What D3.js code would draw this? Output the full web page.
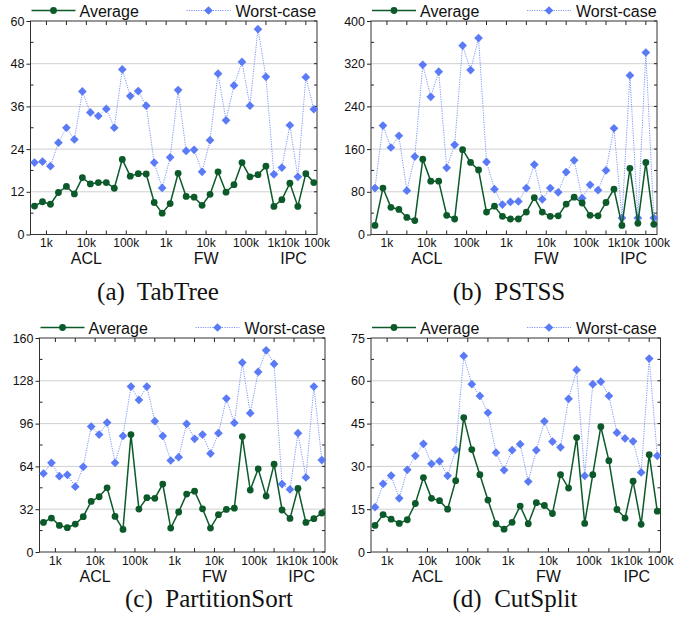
<!DOCTYPE html>
<html>
<head>
<meta charset="utf-8">
<script src="https://cdn.jsdelivr.net/npm/d3@7/dist/d3.min.js"></script>
<style>
  body { margin: 0; background: #fff; }
  svg { display: block; }
  text { font-family: Arial, "Liberation Sans", sans-serif; fill: #111; }
  .caption { font-family: "Times New Roman", "Liberation Serif", serif; }
</style>
</head>
<body>
<div id="chart"></div>
<script>
// categories: 3 rule-set families, 3 sizes each, n seeds per size
const groups = ['ACL', 'FW', 'IPC'];
const setsPerGroup = [5, 5, 2];
const sizes = ['1k', '10k', '100k'];
const seriesNames = ['Average', 'Worst-case'];

// y tick labels per panel
const yTicksTabTree = [0, 12, 24, 36, 48, 60];
const yTicksPSTSS = [0, 80, 160, 240, 320, 400];
const yTicksPartitionSort = [0, 32, 64, 96, 128, 160];
const yTicksCutSplit = [0, 15, 30, 45, 60, 75];

// values (36 rule sets each)
const tabTreeAvg = [8.0, 9.2, 8.5, 11.8, 13.5, 11.4, 16.0, 14.2, 14.6, 14.6, 13.0, 21.1, 16.4, 17.1, 17.0,
  9.0, 6.0, 8.7, 17.2, 10.7, 10.5, 8.2, 11.3, 17.6, 11.9, 14.0, 20.2, 16.2, 16.8, 19.2,
  7.9, 9.8, 14.4, 7.9, 17.1, 14.6];
const tabTreeWorst = [20.2, 20.5, 19.2, 25.8, 30.0, 26.7, 40.2, 34.3, 33.3, 35.3, 30.0, 46.4, 38.9, 40.3, 36.2,
  20.2, 13.1, 21.7, 40.6, 23.5, 23.8, 17.6, 26.5, 45.2, 32.1, 41.9, 48.5, 36.2, 57.7, 44.3,
  16.9, 18.8, 30.7, 16.2, 44.2, 35.2];

const pstssAvg = [17, 87, 51, 47, 32, 26, 141, 100, 100, 36, 29, 159, 135, 121, 42,
  53, 34, 29, 29, 42, 69, 42, 34, 35, 57, 70, 59, 36, 35, 60,
  85, 17, 124, 21, 135, 19];
const pstssWorst = [87, 204, 163, 185, 82, 146, 318, 258, 305, 125, 168, 354, 308, 368, 136,
  85, 56, 61, 62, 87, 131, 66, 87, 79, 117, 139, 68, 93, 83, 120,
  199, 31, 298, 31, 341, 31];

const partitionSortAvg = [22.1, 25.4, 19.9, 18.2, 20.9, 26.4, 37.8, 41.3, 48.0, 26.6, 16.9, 87.8, 32.1, 40.6, 40.1,
  50.8, 17.9, 29.9, 43.3, 45.5, 32.3, 17.9, 27.9, 31.8, 32.8, 86.3, 46.3, 62.2, 41.8, 65.7,
  31.4, 25.1, 47.5, 22.1, 24.9, 29.1];
const partitionSortWorst = [58.7, 66.7, 56.7, 57.7, 48.8, 63.7, 93.8, 87.8, 96.8, 66.7, 86.8, 123.7, 113.7, 123.7, 97.8,
  86.8, 68.4, 70.9, 95.8, 84.6, 87.8, 73.6, 88.8, 114.7, 96.5, 141.6, 103.8, 134.6, 150.8, 140.6,
  50.8, 46.8, 88.8, 55.7, 123.7, 68.7];

const cutSplitAvg = [9.3, 13.1, 11.5, 10.0, 11.3, 17.0, 26.1, 18.8, 18.0, 15.0, 25.0, 47.1, 35.9, 27.1, 18.2,
  9.9, 8.0, 10.4, 16.1, 9.9, 17.3, 16.3, 13.5, 27.1, 22.4, 40.1, 10.0, 27.1, 43.9, 32.0,
  14.9, 11.9, 24.8, 9.7, 34.1, 14.3];
const cutSplitWorst = [15.7, 23.9, 26.8, 18.8, 28.8, 33.7, 37.9, 30.9, 31.8, 26.7, 35.8, 68.7, 58.8, 54.7, 48.8,
  34.8, 28.7, 35.7, 37.8, 24.7, 35.7, 45.8, 38.7, 36.7, 53.7, 63.8, 26.7, 58.8, 59.7, 54.7,
  41.8, 39.8, 38.8, 27.9, 67.8, 33.7];

const WIDTH = 697, HEIGHT = 627;
const GREEN = '#0c5a2a';
const BLUE = '#5b7bf6';
const BLUE_LINE = '#7d96fb';

// panel layout (pixel boxes of each plot frame)
const panels = [
  { caption: '(a)', name: 'TabTree', avg: tabTreeAvg, worst: tabTreeWorst, yTicks: yTicksTabTree,
    box: { left: 30.5, right: 317, top: 21, bottom: 234.5 }, capX: 158, capY: 300 },
  { caption: '(b)', name: 'PSTSS', avg: pstssAvg, worst: pstssWorst, yTicks: yTicksPSTSS,
    box: { left: 371, right: 657, top: 21, bottom: 234.5 }, capX: 509, capY: 300 },
  { caption: '(c)', name: 'PartitionSort', avg: partitionSortAvg, worst: partitionSortWorst, yTicks: yTicksPartitionSort,
    box: { left: 39.5, right: 325, top: 338, bottom: 552 }, capX: 209, capY: 607 },
  { caption: '(d)', name: 'CutSplit', avg: cutSplitAvg, worst: cutSplitWorst, yTicks: yTicksCutSplit,
    box: { left: 371, right: 660.5, top: 338, bottom: 552 }, capX: 515, capY: 607 }
];

// build the category list (1-based x index)
const categories = [];
const sizeBlocks = [];
const groupBlocks = [];
groups.forEach((g, gi) => {
  const gb = { group: g, blocks: [] };
  sizes.forEach(s => {
    const start = categories.length + 1;
    for (let k = 0; k < setsPerGroup[gi]; k++) {
      categories.push({ group: g, size: s, x: categories.length + 1 });
    }
    const block = { label: s, start, end: categories.length };
    sizeBlocks.push(block);
    gb.blocks.push(block);
  });
  groupBlocks.push(gb);
});
const nCat = categories.length;
const xDomain = [0.5, nCat + 0.4];

// size label sits half a step left of the block centre; the last one at the axis end
sizeBlocks.forEach((b, i) => {
  b.pos = i === sizeBlocks.length - 1 ? xDomain[1] : (b.start + b.end) / 2 - 0.5;
});
groupBlocks.forEach(gb => { gb.pos = d3.mean(gb.blocks, b => b.pos); });

const svg = d3.select('#chart').append('svg')
  .attr('width', WIDTH)
  .attr('height', HEIGHT);

// diamond = square turned 45 degrees
const diamond = d3.symbol().type(d3.symbolSquare).size(38);

function drawPanel(p) {
  const { left, right, top, bottom } = p.box;
  const x = d3.scaleLinear().domain(xDomain).range([left, right]);
  const y = d3.scaleLinear().domain([0, d3.max(p.yTicks)]).range([bottom, top]);
  const step = p.yTicks[1] - p.yTicks[0];
  const minorY = p.yTicks.slice(0, -1).map(v => v + step / 2);
  const g = svg.append('g');

  // grid
  g.append('g').selectAll('line')
    .data(p.yTicks.slice(1, -1))
    .join('line')
    .attr('x1', left).attr('x2', right)
    .attr('y1', d => y(d)).attr('y2', d => y(d))
    .attr('stroke', '#cfcfcf').attr('stroke-width', 1);

  // left axis: major ticks outward, labels
  const yAxis = d3.axisLeft(y).tickValues(p.yTicks).tickSize(4).tickPadding(2).tickFormat(d3.format('d'));
  const ya = g.append('g').attr('transform', `translate(${left},0)`).call(yAxis);
  ya.select('.domain').remove();
  ya.selectAll('line').attr('stroke', '#222');
  ya.selectAll('text').attr('font-size', 12.5).attr('fill', '#111')
    .attr('font-family', 'Arial, "Liberation Sans", sans-serif');

  // minor inward ticks left and right; inward major ticks right
  g.append('g').selectAll('line')
    .data(minorY)
    .join('line')
    .attr('x1', left).attr('x2', left + 3)
    .attr('y1', d => y(d)).attr('y2', d => y(d))
    .attr('stroke', '#222');
  g.append('g').selectAll('line')
    .data(minorY.concat(p.yTicks))
    .join('line')
    .attr('x1', right).attr('x2', right - 3)
    .attr('y1', d => y(d)).attr('y2', d => y(d))
    .attr('stroke', '#222');

  // x ticks every 2.5 units, inward, top and bottom
  const xTicks = d3.range(2.5, nCat, 2.5);
  g.append('g').selectAll('line')
    .data(xTicks)
    .join('line')
    .attr('x1', d => x(d)).attr('x2', d => x(d))
    .attr('y1', bottom).attr('y2', bottom - 4)
    .attr('stroke', '#222');
  g.append('g').selectAll('line')
    .data(xTicks)
    .join('line')
    .attr('x1', d => x(d)).attr('x2', d => x(d))
    .attr('y1', top).attr('y2', top + 4)
    .attr('stroke', '#222');

  // frame
  g.append('rect')
    .attr('x', left).attr('y', top)
    .attr('width', right - left).attr('height', bottom - top)
    .attr('fill', 'none').attr('stroke', '#333').attr('stroke-width', 1);

  // size labels and group labels
  g.append('g').selectAll('text')
    .data(sizeBlocks)
    .join('text')
    .attr('x', d => x(d.pos))
    .attr('y', bottom + 12.5)
    .attr('text-anchor', 'middle')
    .attr('font-size', 12)
    .text(d => d.label);
  g.append('g').selectAll('text')
    .data(groupBlocks)
    .join('text')
    .attr('x', d => x(d.pos))
    .attr('y', bottom + 29.5)
    .attr('text-anchor', 'middle')
    .attr('font-size', 16)
    .text(d => d.group);

  // worst-case series: dotted line with diamonds
  const lineW = d3.line().x((d, i) => x(categories[i].x)).y(d => y(d));
  g.append('path')
    .datum(p.worst)
    .attr('d', lineW)
    .attr('fill', 'none')
    .attr('stroke', BLUE_LINE)
    .attr('stroke-width', 1)
    .attr('stroke-dasharray', '1.2,1.2');
  g.append('g').selectAll('path')
    .data(p.worst)
    .join('path')
    .attr('d', diamond)
    .attr('transform', (d, i) => `translate(${x(categories[i].x)},${y(d)}) rotate(45)`)
    .attr('fill', BLUE);

  // average series: solid line with circles
  g.append('path')
    .datum(p.avg)
    .attr('d', lineW)
    .attr('fill', 'none')
    .attr('stroke', GREEN)
    .attr('stroke-width', 1.5);
  g.append('g').selectAll('circle')
    .data(p.avg)
    .join('circle')
    .attr('cx', (d, i) => x(categories[i].x))
    .attr('cy', d => y(d))
    .attr('r', 3.4)
    .attr('fill', GREEN);

  // legend
  const ly = top - 10.5;
  const leg = g.append('g');
  leg.append('line')
    .attr('x1', left + 1).attr('x2', left + 45).attr('y1', ly).attr('y2', ly)
    .attr('stroke', GREEN).attr('stroke-width', 1.5);
  leg.append('circle').attr('cx', left + 23).attr('cy', ly).attr('r', 3.4).attr('fill', GREEN);
  leg.append('text').attr('x', left + 49).attr('y', top - 4.5).attr('font-size', 16).text(seriesNames[0]);
  leg.append('line')
    .attr('x1', left + 156).attr('x2', left + 200).attr('y1', ly).attr('y2', ly)
    .attr('stroke', BLUE_LINE).attr('stroke-width', 1).attr('stroke-dasharray', '1.2,1.2');
  leg.append('path').attr('d', diamond)
    .attr('transform', `translate(${left + 178},${ly}) rotate(45)`).attr('fill', BLUE);
  leg.append('text').attr('x', left + 205).attr('y', top - 4.5).attr('font-size', 16).text(seriesNames[1]);

  // caption
  svg.append('text')
    .attr('class', 'caption')
    .attr('x', p.capX).attr('y', p.capY)
    .attr('text-anchor', 'middle')
    .attr('font-size', 25)
    .attr('xml:space', 'preserve')
    .style('white-space', 'pre')
    .text(`${p.caption}  ${p.name}`);
}

panels.forEach(drawPanel);
</script>
</body>
</html>
